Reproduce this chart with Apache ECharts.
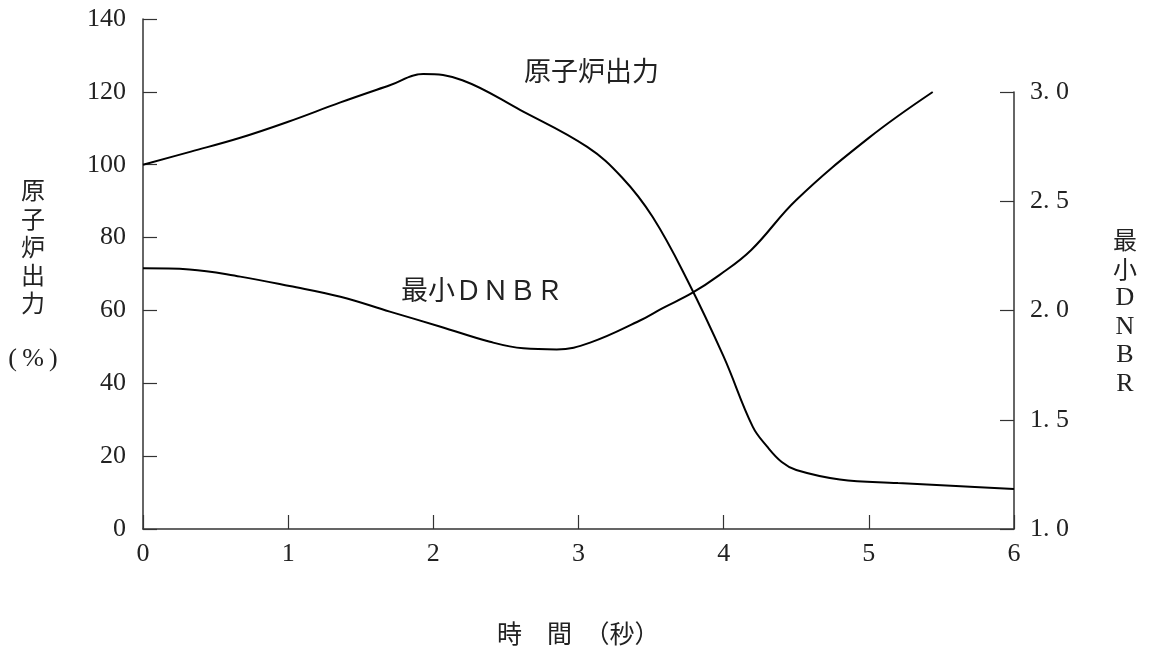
<!DOCTYPE html>
<html>
<head>
<meta charset="utf-8">
<script src="https://cdn.jsdelivr.net/npm/echarts@6/dist/echarts.min.js"></script>
<style>html,body{margin:0;padding:0;background:#fff}#c{width:1150px;height:659px}</style>
</head>
<body>
<div id="c"></div>
<script>
// Data
const timeTicks = [0, 1, 2, 3, 4, 5, 6];
const powerTime  = [0, 0.33, 0.67, 1.0, 1.36, 1.7, 1.93, 2.2, 2.6, 3.06, 3.3, 3.51, 3.75, 4.0, 4.2, 4.3, 4.4, 4.5, 4.8, 5.2, 5.6, 6.0];
const powerValue = [100, 103.6, 107.4, 111.8, 117.1, 121.8, 124.9, 123.2, 115, 104.9, 96.5, 85.7, 68.3, 47.3, 28.1, 22.6, 18.4, 16.2, 13.6, 12.6, 11.8, 11.0];
const dnbrTime  = [0, 0.32, 0.67, 1.01, 1.36, 1.7, 2.05, 2.39, 2.62, 2.85, 3.08, 3.42, 3.58, 3.78, 3.97, 4.19, 4.5, 5.0, 5.44];
const dnbrValue = [2.193, 2.188, 2.155, 2.112, 2.063, 1.995, 1.926, 1.857, 1.827, 1.822, 1.853, 1.953, 2.011, 2.079, 2.162, 2.277, 2.506, 2.79, 3.0];
const leftTicks = [0, 20, 40, 60, 80, 100, 120, 140];
const rightTicks = [1.0, 1.5, 2.0, 2.5, 3.0];

const serif = "'Liberation Serif', 'DejaVu Serif', serif";
const cjk = "'Noto Sans CJK JP', 'Noto Sans', sans-serif";
const axisColor = '#333';
const textColor = '#222';

const chart = echarts.init(document.getElementById('c'));
const pair = (xs, ys) => xs.map((x, i) => [x, ys[i]]);

chart.setOption({
  backgroundColor: '#fff',
  animation: false,
  grid: [
    {left: 143, right: 136, top: 19, bottom: 130},
    {left: 143, right: 136, top: 92, bottom: 130}
  ],
  xAxis: [
    {
      type: 'value', gridIndex: 0, min: timeTicks[0], max: timeTicks[timeTicks.length - 1], interval: 1,
      axisLine: {onZero: false, lineStyle: {color: axisColor, width: 1.5}},
      axisTick: {inside: true, length: 14, lineStyle: {color: axisColor, width: 1.2}},
      axisLabel: {margin: 12, fontFamily: serif, fontSize: 26, color: textColor},
      splitLine: {show: false}
    },
    {
      type: 'value', gridIndex: 1, min: 0, max: 6, show: false
    }
  ],
  yAxis: [
    {
      type: 'value', gridIndex: 0, min: leftTicks[0], max: leftTicks[leftTicks.length - 1], interval: 20,
      axisLine: {show: true, onZero: false, lineStyle: {color: axisColor, width: 1.5}},
      axisTick: {show: true, inside: true, length: 14, lineStyle: {color: axisColor, width: 1.2}},
      axisLabel: {margin: 17, fontFamily: serif, fontSize: 26, color: textColor},
      splitLine: {show: false}
    },
    {
      type: 'value', gridIndex: 1, position: 'right', min: rightTicks[0], max: rightTicks[rightTicks.length - 1], interval: 0.5,
      axisLine: {show: true, onZero: false, lineStyle: {color: axisColor, width: 1.5}},
      axisTick: {show: true, inside: true, length: 14, lineStyle: {color: axisColor, width: 1.2}},
      axisLabel: {margin: 16, fontFamily: serif, fontSize: 26, color: textColor,
        formatter: v => v.toFixed(1).replace('.', '. ')},
      splitLine: {show: false}
    }
  ],
  series: [
    {
      name: '原子炉出力', type: 'line', xAxisIndex: 0, yAxisIndex: 0,
      data: pair(powerTime, powerValue), smooth: 0.4, showSymbol: false,
      lineStyle: {color: '#000', width: 2}
    },
    {
      name: '最小DNBR', type: 'line', xAxisIndex: 1, yAxisIndex: 1,
      data: pair(dnbrTime, dnbrValue), smooth: 0.4, showSymbol: false,
      lineStyle: {color: '#000', width: 2}
    }
  ],
  graphic: [
    {type: 'text', left: 524, top: 57, style: {text: '原子炉出力', font: "27px " + cjk, fill: textColor}},
    {type: 'text', left: 401, top: 276, style: {text: '最小ＤＮＢＲ', font: "27px " + cjk, fill: textColor}},
    {type: 'text', x: 33, y: 176, style: {text: '原\n子\n炉\n出\n力', font: "24px " + cjk, fill: textColor, align: 'center', lineHeight: 28.3}},
    {type: 'text', x: 33, y: 346, style: {text: '(\u2009%\u2009)', font: "26px " + serif, fill: textColor, align: 'center'}},
    {type: 'text', x: 1125, y: 226, style: {text: '最\n小', font: "24px " + cjk, fill: textColor, align: 'center', lineHeight: 28.5}},
    {type: 'text', x: 1125, y: 284, style: {text: 'D\nN\nB\nR', font: "26px " + serif, fill: textColor, align: 'center', lineHeight: 28.5}},
    {type: 'text', left: 497, top: 621, style: {text: '時　間　（秒）', font: "25px " + cjk, fill: textColor}}
  ]
});
</script>
</body>
</html>
